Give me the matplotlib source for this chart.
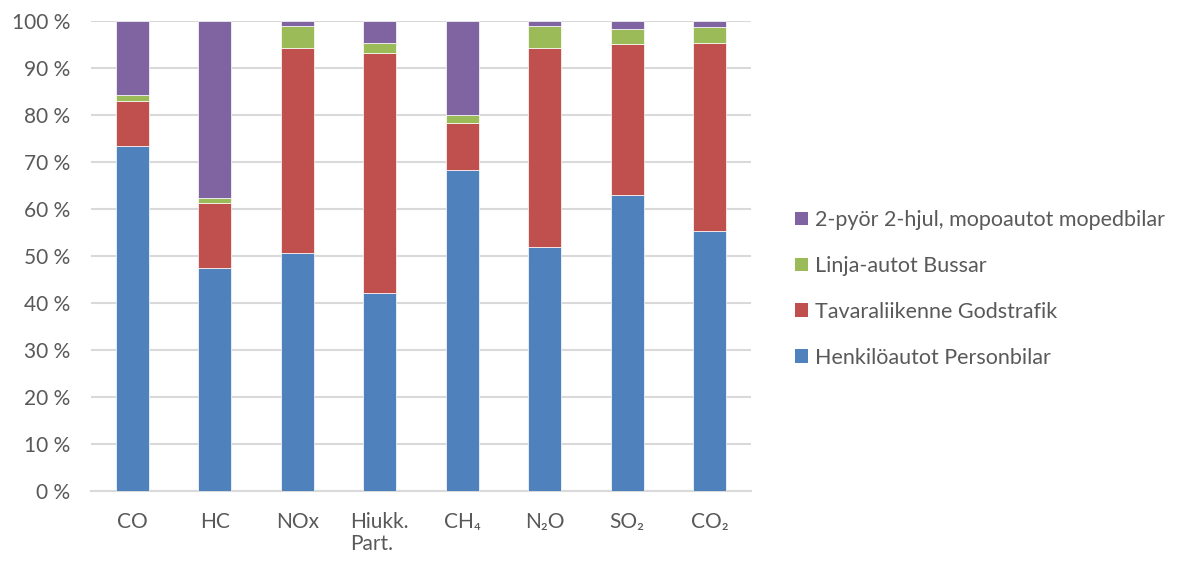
import matplotlib.pyplot as plt
import numpy as np
from matplotlib.patches import Patch

plt.rcParams["font.family"] = ["Lato", "DejaVu Sans"]

categories = ["CO", "HC", "NOx", "Hiukk.\nPart.", "CH₄", "N₂O", "SO₂", "CO₂"]
series_names = [
    "Henkilöautot Personbilar",
    "Tavaraliikenne Godstrafik",
    "Linja-autot Bussar",
    "2-pyör 2-hjul, mopoautot mopedbilar",
]
# percentage shares per category, bottom to top
personbilar = [73.4, 47.5, 50.6, 42.1, 68.2, 52.0, 62.9, 55.3]
godstrafik = [9.6, 13.8, 43.7, 51.2, 10.0, 42.3, 32.3, 40.1]
bussar = [1.3, 1.1, 4.6, 2.1, 1.7, 4.6, 3.1, 3.3]
mopeder = [15.7, 37.6, 1.1, 4.6, 20.1, 1.1, 1.7, 1.3]
colors = ["#4F81BD", "#C0504D", "#9BBB59", "#8064A2"]

text_color = "#595959"
grid_color = "#D9D9D9"

fig = plt.figure(figsize=(11.8, 5.62), dpi=100)
ax = fig.add_axes([0.0771, 0.1263, 0.5593, 0.8363])

x = np.arange(len(categories))
bottom = np.zeros(len(categories))
for values, color in zip([personbilar, godstrafik, bussar, mopeder], colors):
    ax.bar(x, values, width=0.4, bottom=bottom, color=color,
           edgecolor="white", linewidth=0.5, zorder=3)
    bottom += np.array(values)

ax.set_xlim(-0.5, len(categories) - 0.5)
ax.set_ylim(0, 100)
ax.set_yticks(np.arange(0, 101, 10))
ax.set_yticklabels([f"{v} %" for v in range(0, 101, 10)])
ax.set_xticks(x)
ax.set_xticklabels(categories, multialignment="left", linespacing=1.15)
ax.yaxis.grid(True, color=grid_color, linewidth=1.5, zorder=0)
ax.tick_params(axis="both", length=0, labelsize=15, labelcolor=text_color)
ax.tick_params(axis="y", pad=15)
ax.tick_params(axis="x", pad=15)
for side in ["top", "right", "left"]:
    ax.spines[side].set_visible(False)
ax.spines["bottom"].set_color(grid_color)
ax.spines["bottom"].set_linewidth(1.5)

handles = [Patch(facecolor=c, edgecolor="none") for c in colors]
leg = fig.legend(handles[::-1], series_names[::-1], loc="center left",
                 bbox_to_anchor=(0.657, 0.486), frameon=False, fontsize=15.5,
                 labelspacing=1.2, handlelength=0.6, handleheight=0.6,
                 handletextpad=0.35)
for t in leg.get_texts():
    t.set_color(text_color)

fig.savefig("out.png", dpi=100)
